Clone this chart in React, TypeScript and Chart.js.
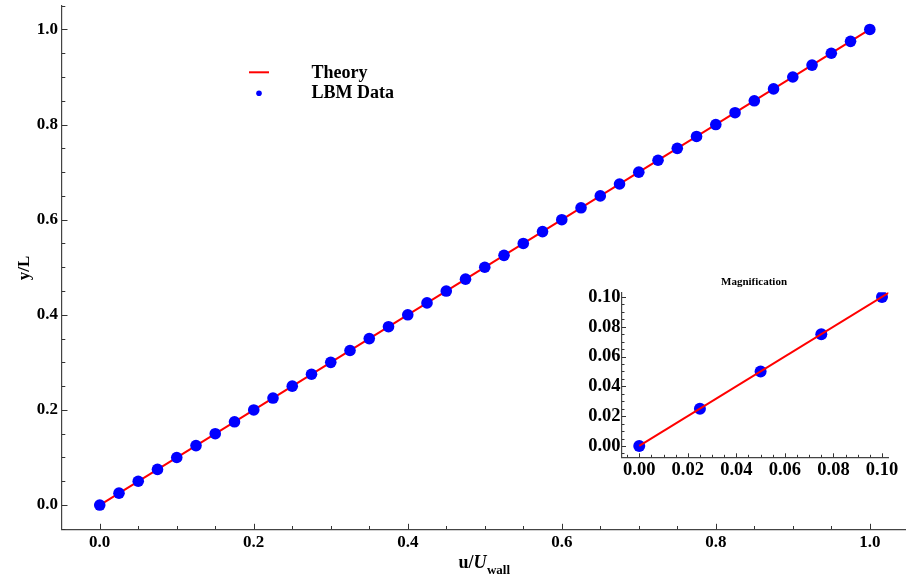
import React, { useEffect, useRef } from "react";
import { Chart, registerables } from "chart.js";
Chart.register(...registerables);

// ---- data ----
const lbmU = [
  0, 0.025, 0.05, 0.075, 0.1, 0.125, 0.15, 0.175, 0.2, 0.225, 0.25, 0.275, 0.3, 0.325,
  0.35, 0.375, 0.4, 0.425, 0.45, 0.475, 0.5, 0.525, 0.55, 0.575, 0.6, 0.625, 0.65, 0.675,
  0.7, 0.725, 0.75, 0.775, 0.8, 0.825, 0.85, 0.875, 0.9, 0.925, 0.95, 0.975, 1.0,
];
const lbmY = [
  0, 0.025, 0.05, 0.075, 0.1, 0.125, 0.15, 0.175, 0.2, 0.225, 0.25, 0.275, 0.3, 0.325,
  0.35, 0.375, 0.4, 0.425, 0.45, 0.475, 0.5, 0.525, 0.55, 0.575, 0.6, 0.625, 0.65, 0.675,
  0.7, 0.725, 0.75, 0.775, 0.8, 0.825, 0.85, 0.875, 0.9, 0.925, 0.95, 0.975, 1.0,
];
const theoryU = [0, 1];
const theoryY = [0, 1];
const magU = [0, 0.025, 0.05, 0.075, 0.1];
const magY = [0, 0.025, 0.05, 0.075, 0.1];
const mainXTicks = [0, 0.2, 0.4, 0.6, 0.8, 1.0];
const mainYTicks = [0, 0.2, 0.4, 0.6, 0.8, 1.0];
const magXTicks = [0, 0.02, 0.04, 0.06, 0.08, 0.1];
const magYTicks = [0, 0.02, 0.04, 0.06, 0.08, 0.1];

const SERIF = '"Liberation Serif", "Times New Roman", Times, serif';
const RED = "#ff0000";
const BLUE = "#0000ff";
const AXIS = "#444444";

const pts = (xs: number[], ys: number[]) => xs.map((x, i) => ({ x, y: ys[i] }));

function drawInwardTicks(chart: any, minorStep: number, majorStep: number, majorLen: number, minorLen: number) {
  const { ctx, chartArea, scales } = chart;
  const x = scales.x;
  const y = scales.y;
  ctx.save();
  ctx.strokeStyle = "#333";
  ctx.lineWidth = 1;
  const isMajor = (v: number) => Math.abs(v / majorStep - Math.round(v / majorStep)) < 1e-6;
  for (let i = Math.ceil(x.min / minorStep); i <= Math.floor(x.max / minorStep); i++) {
    const v = i * minorStep;
    const px = Math.round(x.getPixelForValue(v)) + 0.5;
    const len = isMajor(v) ? majorLen : minorLen;
    ctx.beginPath();
    ctx.moveTo(px, chartArea.bottom);
    ctx.lineTo(px, chartArea.bottom - len);
    ctx.stroke();
  }
  for (let i = Math.ceil(y.min / minorStep); i <= Math.floor(y.max / minorStep); i++) {
    const v = i * minorStep;
    const py = Math.round(y.getPixelForValue(v)) + 0.5;
    const len = isMajor(v) ? majorLen : minorLen;
    ctx.beginPath();
    ctx.moveTo(chartArea.left, py);
    ctx.lineTo(chartArea.left + len, py);
    ctx.stroke();
  }
  ctx.restore();
}

const mainDecor = {
  id: "mainDecor",
  afterDraw(chart: any) {
    const { ctx } = chart;
    drawInwardTicks(chart, 0.05, 0.2, 5.5, 3.3);
    ctx.save();
    // legend
    ctx.strokeStyle = RED;
    ctx.lineWidth = 2;
    ctx.beginPath();
    ctx.moveTo(249, 72.3);
    ctx.lineTo(269, 72.3);
    ctx.stroke();
    ctx.fillStyle = BLUE;
    ctx.beginPath();
    ctx.arc(259, 93.3, 2.8, 0, Math.PI * 2);
    ctx.fill();
    ctx.fillStyle = "#000";
    ctx.font = `bold 18px ${SERIF}`;
    ctx.textAlign = "left";
    ctx.textBaseline = "alphabetic";
    ctx.fillText("Theory", 311.5, 78.3);
    ctx.fillText("LBM Data", 311.5, 98.3);
    // x title: u/U_wall
    ctx.font = `bold 18px ${SERIF}`;
    const w1 = ctx.measureText("u/").width;
    ctx.font = `italic bold 18px ${SERIF}`;
    const w2 = ctx.measureText("U").width;
    ctx.font = `bold 13px ${SERIF}`;
    const w3 = ctx.measureText("wall").width;
    let sx = 484 - (w1 + w2 + w3) / 2;
    ctx.font = `bold 18px ${SERIF}`;
    ctx.fillText("u/", sx, 567.5);
    sx += w1;
    ctx.font = `italic bold 18px ${SERIF}`;
    ctx.fillText("U", sx, 567.5);
    sx += w2 + 0.5;
    ctx.font = `bold 13px ${SERIF}`;
    ctx.fillText("wall", sx, 573.5);
    // y title
    ctx.translate(25, 268);
    ctx.rotate(-Math.PI / 2);
    ctx.font = `bold 17px ${SERIF}`;
    ctx.textAlign = "center";
    ctx.textBaseline = "middle";
    ctx.fillText("y/L", 0, 0);
    ctx.restore();
  },
};

const magDecor = {
  id: "magDecor",
  afterDraw(chart: any) {
    const { ctx } = chart;
    drawInwardTicks(chart, 0.005, 0.02, 4, 2.5);
    ctx.save();
    ctx.fillStyle = "#000";
    ctx.font = `bold 11px ${SERIF}`;
    ctx.textAlign = "center";
    ctx.textBaseline = "middle";
    ctx.fillText("Magnification", 184, 17);
    ctx.restore();
  },
};

const noPadX = (h: number) => (s: any) => {
  s.height = h;
  s.paddingLeft = 0;
  s.paddingRight = 0;
  s.paddingTop = 0;
  s.paddingBottom = 0;
};
const noPadY = (w: number) => (s: any) => {
  s.width = w;
  s.paddingLeft = 0;
  s.paddingRight = 0;
  s.paddingTop = 0;
  s.paddingBottom = 0;
};

export default function App() {
  const mainRef = useRef<HTMLCanvasElement | null>(null);
  const magRef = useRef<HTMLCanvasElement | null>(null);

  useEffect(() => {
    const tickFont = { family: SERIF, size: 17, weight: "bold" as const };
    const main = new Chart(mainRef.current as HTMLCanvasElement, {
      type: "scatter",
      data: {
        datasets: [
          {
            label: "LBM Data",
            data: pts(lbmU, lbmY),
            pointRadius: 5.8,
            pointBorderWidth: 0,
            pointBackgroundColor: BLUE,
            borderColor: BLUE,
            showLine: false,
          },
          {
            label: "Theory",
            data: pts(theoryU, theoryY),
            showLine: true,
            borderColor: RED,
            borderWidth: 2,
            pointRadius: 0,
          },
        ],
      },
      plugins: [mainDecor],
      options: {
        animation: false,
        responsive: false,
        events: [],
        layout: { autoPadding: false, padding: { top: 5.2, right: 0, left: 0, bottom: 0 } },
        plugins: { legend: { display: false }, tooltip: { enabled: false } },
        scales: {
          x: {
            type: "linear",
            min: -0.049,
            max: 1.047,
            grid: { display: false, drawTicks: false },
            border: { display: true, color: AXIS, width: 1.2 },
            afterBuildTicks: (s: any) => {
              s.ticks = mainXTicks.map((v) => ({ value: v }));
            },
            afterFit: noPadX(582 - 529.3),
            ticks: {
              color: "#000",
              font: tickFont,
              padding: 3,
              maxRotation: 0,
              callback: (v: any) => Number(v).toFixed(1),
            },
          },
          y: {
            type: "linear",
            min: -0.051,
            max: 1.051,
            grid: { display: false, drawTicks: false },
            border: { display: true, color: AXIS, width: 1.2 },
            afterBuildTicks: (s: any) => {
              s.ticks = mainYTicks.map((v) => ({ value: v }));
            },
            afterFit: noPadY(62),
            ticks: {
              color: "#000",
              font: tickFont,
              padding: 4,
              callback: (v: any) => Number(v).toFixed(1),
            },
          },
        },
      },
    } as any);

    const magFont = { family: SERIF, size: 18.5, weight: "bold" as const };
    const mag = new Chart(magRef.current as HTMLCanvasElement, {
      type: "scatter",
      data: {
        datasets: [
          {
            label: "Theory",
            data: pts(theoryU, theoryY),
            showLine: true,
            borderColor: RED,
            borderWidth: 2,
            pointRadius: 0,
          },
          {
            label: "LBM Data",
            data: pts(magU, magY),
            pointRadius: 6,
            pointBorderWidth: 0,
            pointBackgroundColor: BLUE,
            borderColor: BLUE,
            showLine: false,
          },
        ],
      },
      plugins: [magDecor],
      options: {
        animation: false,
        responsive: false,
        events: [],
        layout: { autoPadding: false, padding: { top: 27.3, right: 17.7, left: 0, bottom: 0 } },
        plugins: { legend: { display: false }, tooltip: { enabled: false } },
        scales: {
          x: {
            type: "linear",
            min: -0.0071,
            max: 0.1026,
            grid: { display: false, drawTicks: false },
            border: { display: true, color: AXIS, width: 1.2 },
            afterBuildTicks: (s: any) => {
              s.ticks = magXTicks.map((v) => ({ value: v }));
            },
            afterFit: noPadX(215 - 192.3),
            ticks: {
              color: "#000",
              font: magFont,
              padding: 1.5,
              maxRotation: 0,
              autoSkip: false,
              callback: (v: any) => Number(v).toFixed(2),
            },
          },
          y: {
            type: "linear",
            min: -0.0076,
            max: 0.1031,
            grid: { display: false, drawTicks: false },
            border: { display: true, color: AXIS, width: 1.2 },
            afterBuildTicks: (s: any) => {
              s.ticks = magYTicks.map((v) => ({ value: v }));
            },
            afterFit: noPadY(52),
            ticks: {
              color: "#000",
              font: magFont,
              padding: 1.5,
              autoSkip: false,
              callback: (v: any) => Number(v).toFixed(2),
            },
          },
        },
      },
    } as any);

    return () => {
      main.destroy();
      mag.destroy();
    };
  }, []);

  return (
    <div style={{ position: "fixed", left: 0, top: 0, width: 906, height: 582, background: "#fff" }}>
      <canvas
        ref={mainRef}
        width={906}
        height={582}
        style={{ position: "absolute", left: 0, top: 0, width: 906, height: 582 }}
      />
      <canvas
        ref={magRef}
        width={336}
        height={215}
        style={{ position: "absolute", left: 570, top: 265, width: 336, height: 215 }}
      />
    </div>
  );
}
